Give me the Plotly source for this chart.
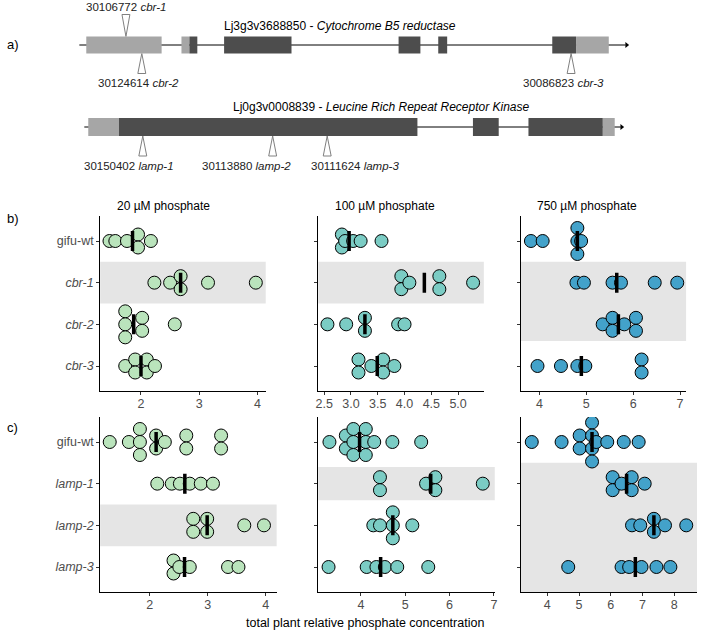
import statistics
import plotly.graph_objects as go

W, H = 701, 632

# ── Data ──────────────────────────────────────────────────────────────────────

CONC = ["20 µM phosphate", "100 µM phosphate", "750 µM phosphate"]
CBR_LINES = ["gifu-wt", "cbr-1", "cbr-2", "cbr-3"]
LAMP_LINES = ["gifu-wt", "lamp-1", "lamp-2", "lamp-3"]

# total plant relative phosphate concentration, one list per line (order as *_LINES)
CBR_20UM = [
    [1.46, 1.56, 1.76, 1.95, 1.95, 2.17],
    [2.23, 2.50, 2.68, 2.68, 3.15, 3.97],
    [1.73, 1.73, 1.73, 2.02, 2.02, 2.58],
    [1.73, 1.90, 1.90, 2.10, 2.10, 2.24],
]
CBR_100UM = [
    [2.83, 2.83, 2.89, 3.04, 3.18, 3.57],
    [3.94, 3.94, 4.09, 4.65, 4.65, 5.28],
    [2.56, 2.91, 3.26, 3.26, 3.88, 4.00],
    [3.14, 3.14, 3.38, 3.60, 3.60, 3.81],
]
CBR_750UM = [
    [3.82, 4.07, 4.81, 4.81, 4.81, 4.89],
    [4.79, 4.95, 5.56, 5.74, 6.46, 6.94],
    [5.35, 5.56, 5.56, 5.81, 6.06, 6.06],
    [3.96, 4.46, 4.81, 4.98, 6.18, 6.18],
]
LAMP_20UM = [
    [1.31, 1.64, 1.83, 1.83, 1.83, 2.11, 2.11, 2.26, 2.63, 2.63, 3.23, 3.23],
    [2.13, 2.38, 2.52, 2.69, 2.88, 3.09],
    [2.75, 2.75, 2.99, 2.99, 3.63, 3.97],
    [2.41, 2.41, 2.51, 2.69, 3.35, 3.53],
]
LAMP_100UM = [
    [3.29, 3.66, 3.66, 3.83, 3.83, 3.83, 4.11, 4.11, 4.11, 4.30, 4.71, 5.36],
    [4.43, 4.43, 5.47, 5.68, 5.68, 6.75],
    [4.28, 4.43, 4.72, 4.72, 4.72, 5.16],
    [3.27, 4.13, 4.35, 4.54, 4.82, 5.52],
]
LAMP_750UM = [
    [3.51, 4.45, 5.02, 5.02, 5.41, 5.41, 5.41, 5.41, 5.54, 5.89, 6.41, 6.88],
    [6.06, 6.06, 6.34, 6.66, 6.66, 7.07],
    [6.67, 6.93, 7.36, 7.36, 7.71, 8.38],
    [4.66, 6.34, 6.58, 6.97, 7.44, 7.88],
]

# highlighted (grey) row spans per panel, in row units (0 = gifu-wt)
BANDS = {1: (0.5, 1.5), 2: (0.5, 1.5), 3: (0.5, 2.4),
         4: (1.5, 2.5), 5: (0.6, 1.4), 6: (0.5, 3.6)}

# gene models, in schematic position along the drawing
GENE1_TITLE = "Lj3g3v3688850 - <i>Cytochrome B5 reductase</i>"
GENE1_SPAN = (77, 628)
GENE1_EXONS = [(84, 160, "utr"), (180, 188, "utr"), (188, 196, "cds"), (223, 291, "cds"),
               (399, 421, "cds"), (439, 448, "cds"), (554, 578, "cds"), (578, 611, "utr")]
GENE1_INSERTS = [(124, "30106772", "cbr-1", "up", 124),
                 (140, "30124614", "cbr-2", "down", 137),
                 (573, "30086823", "cbr-3", "down", 565)]

GENE2_TITLE = "Lj0g3v0008839 - <i>Leucine Rich Repeat Receptor Kinase</i>"
GENE2_SPAN = (82, 623)
GENE2_EXONS = [(86, 117, "utr"), (117, 418, "cds"), (474, 500, "cds"),
               (530, 605, "cds"), (605, 617, "utr")]
GENE2_INSERTS = [(141, "30150402", "lamp-1", "down", 127),
                 (272, "30113880", "lamp-2", "down", 246),
                 (327, "30111624", "lamp-3", "down", 355)]

# ── Style ─────────────────────────────────────────────────────────────────────

GNBU = ["#bae4bc", "#7bccc4", "#43a2ca"]
BAND_COLOR = "#e5e5e5"
TICK_COLOR = "#4d4d4d"
FONT = "Liberation Sans, Arial, Helvetica, sans-serif"
DOT_PX = 13
BIN_PX = 3

PANELS = [
    dict(data=CBR_20UM, rows=CBR_LINES, color=GNBU[0], xpx=(98, 265), ypx=(216, 391),
         xr=(1.30, 4.14), dtick=1, fmt="", labels=True, title=CONC[0]),
    dict(data=CBR_100UM, rows=CBR_LINES, color=GNBU[1], xpx=(318, 485), ypx=(216, 391),
         xr=(2.389, 5.481), dtick=0.5, fmt=".1f", labels=False, title=CONC[1]),
    dict(data=CBR_750UM, rows=CBR_LINES, color=GNBU[2], xpx=(522, 689), ypx=(216, 391),
         xr=(3.598, 7.129), dtick=1, fmt="", labels=False, title=CONC[2]),
    dict(data=LAMP_20UM, rows=LAMP_LINES, color=GNBU[0], xpx=(98, 276), ypx=(417, 592),
         xr=(1.145, 4.188), dtick=1, fmt="", labels=True, title=None),
    dict(data=LAMP_100UM, rows=LAMP_LINES, color=GNBU[1], xpx=(318, 496), ypx=(417, 592),
         xr=(3.038, 7.020), dtick=1, fmt="", labels=False, title=None),
    dict(data=LAMP_750UM, rows=LAMP_LINES, color=GNBU[2], xpx=(522, 700), ypx=(417, 592),
         xr=(3.156, 8.719), dtick=1, fmt="", labels=False, title=None),
]


def dot_stacks(values, bw):
    """dotdensity-style binning, stacked around the centre line"""
    groups = []
    for v in sorted(values):
        if groups and v - groups[-1][0] < bw:
            groups[-1].append(v)
        else:
            groups.append([v])
    out = []
    for g in groups:
        c = (g[0] + g[-1]) / 2
        for k in range(len(g)):
            out.append((c, k - (len(g) - 1) / 2))
    return out


def note(text, x, y, size, color="black", xanchor="center", xref="paper", yref="paper"):
    return dict(text=text, x=x, y=y, xref=xref, yref=yref, xanchor=xanchor, yanchor="middle",
                showarrow=False, font=dict(size=size, color=color))


fig = go.Figure()
shapes, annotations = [], []
layout_axes = {}

for i, p in enumerate(PANELS, start=1):
    sfx = "" if i == 1 else str(i)
    xa, ya = f"x{sfx}", f"y{sfx}"
    x_per_px = (p["xr"][1] - p["xr"][0]) / (p["xpx"][1] - p["xpx"][0])
    row_per_px = 4.2 / (p["ypx"][1] - p["ypx"][0])
    bw = BIN_PX * x_per_px
    step = DOT_PX * row_per_px

    xs, ys, bx, by = [], [], [], []
    for r, vals in enumerate(p["data"]):
        for c, k in dot_stacks(vals, bw):
            xs.append(c)
            ys.append(r + k * step)
        m = statistics.median(vals)
        bx += [m, m, None]
        by += [r - 0.24, r + 0.24, None]

    fig.add_trace(go.Scatter(
        x=xs, y=ys, mode="markers", xaxis=xa, yaxis=ya, showlegend=False, hoverinfo="x",
        marker=dict(size=DOT_PX, color=p["color"], line=dict(color="black", width=1)),
    ))
    fig.add_trace(go.Scatter(
        x=bx, y=by, mode="lines", xaxis=xa, yaxis=ya, showlegend=False, hoverinfo="skip",
        line=dict(color="black", width=3.5),
    ))

    y0, y1 = BANDS[i]
    shapes.append(dict(type="rect", xref=f"{xa} domain", yref=ya, x0=0, x1=1, y0=y0, y1=y1,
                       fillcolor=BAND_COLOR, line=dict(width=0), layer="below"))

    ticktext = [r if r == "gifu-wt" else f"<i>{r}</i>" for r in p["rows"]] if p["labels"] else [""] * 4
    layout_axes[f"xaxis{sfx}"] = dict(
        domain=[p["xpx"][0] / W, p["xpx"][1] / W], range=list(p["xr"]), anchor=ya,
        showline=True, linecolor="black", linewidth=1, ticks="outside", ticklen=3,
        tickcolor="#333333", dtick=p["dtick"], tick0=0, tickformat=p["fmt"],
        ticklabelstandoff=-2,
        showgrid=False, zeroline=False, tickfont=dict(size=12.5, color=TICK_COLOR),
    )
    layout_axes[f"yaxis{sfx}"] = dict(
        domain=[1 - p["ypx"][1] / H, 1 - p["ypx"][0] / H], range=[3.6, -0.6], anchor=xa,
        showline=True, linecolor="black", linewidth=1, ticks="outside", ticklen=3,
        tickcolor="#333333", tickvals=[0, 1, 2, 3], ticktext=ticktext,
        showgrid=False, zeroline=False, tickfont=dict(size=12.5, color=TICK_COLOR),
    )
    if p["title"]:
        annotations.append(note(p["title"], (p["xpx"][0] + 15) / W, 1 - 206 / H, 12,
                                xanchor="left"))

# ── Gene models (panel a) ────────────────────────────────────────────────────

GX, GY = "x7", "y7"
layout_axes["xaxis7"] = dict(domain=[0, 1], range=[0, W], visible=False, anchor=GY)
layout_axes["yaxis7"] = dict(domain=[1 - 180 / H, 1], range=[180, 0], visible=False, anchor=GX)


def draw_gene(span, exons, inserts, title, title_x, yc, half, label_up_y, label_dn_y, title_y):
    fig.add_trace(go.Scatter(x=list(span), y=[yc, yc], mode="lines", xaxis=GX, yaxis=GY,
                             line=dict(color="black", width=1), showlegend=False,
                             hoverinfo="skip"))
    fig.add_trace(go.Scatter(x=[span[1] + 1], y=[yc], mode="markers", xaxis=GX, yaxis=GY,
                             marker=dict(symbol="triangle-right", size=5, color="black"),
                             showlegend=False, hoverinfo="skip"))
    for x0, x1, kind in exons:
        shapes.append(dict(type="rect", xref=GX, yref=GY, x0=x0, x1=x1, y0=yc - half, y1=yc + half,
                           fillcolor="#a6a6a6" if kind == "utr" else "#4d4d4d",
                           line=dict(width=0), layer="above"))
    for pos, coord, allele, side, lx in inserts:
        if side == "up":
            apex, base = yc - half, yc - half - 22
            ly = label_up_y
        else:
            apex, base = yc + half, yc + half + 20
            ly = label_dn_y
        fig.add_trace(go.Scatter(x=[pos, pos - 4, pos + 4, pos], y=[apex, base, base, apex],
                                 mode="lines", fill="toself", fillcolor="white",
                                 line=dict(color="#808080", width=1), xaxis=GX, yaxis=GY,
                                 showlegend=False, hoverinfo="skip"))
        annotations.append(note(f"{coord} <i>{allele}</i>", lx, ly, 11.5, "#222222",
                                xref=GX, yref=GY))
    annotations.append(note(title, title_x, title_y, 12, xref=GX, yref=GY))


draw_gene(GENE1_SPAN, GENE1_EXONS, GENE1_INSERTS, GENE1_TITLE, 340, 45, 8.5, 7, 83, 26)
draw_gene(GENE2_SPAN, GENE2_EXONS, GENE2_INSERTS, GENE2_TITLE, 382, 127, 9, 0, 166, 107)

for lab, py in [("a)", 44), ("b)", 218), ("c)", 427)]:
    annotations.append(note(lab, 2 / W, 1 - py / H, 13, xanchor="left"))

annotations.append(note("total plant relative phosphate concentration", 365 / W, 1 - 623 / H, 12.5))

fig.update_layout(
    width=W, height=H, margin=dict(l=0, r=0, t=0, b=0),
    paper_bgcolor="white", plot_bgcolor="rgba(0,0,0,0)",
    font=dict(family=FONT), shapes=shapes, annotations=annotations,
    **layout_axes,
)

fig.write_html("out.html", config={"displayModeBar": False},
               post_script="document.body.style.margin = '0';")
